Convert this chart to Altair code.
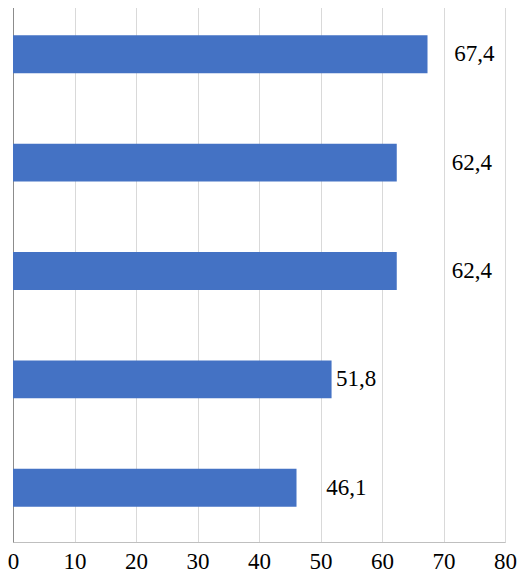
import altair as alt
import pandas as pd

categories = ["A", "B", "C", "D", "E"]
values = [67.4, 62.4, 62.4, 51.8, 46.1]
value_labels = ["67,4", "62,4", "62,4", "51,8", "46,1"]
# label anchor (in data units, centre of the text) as seen in the reference
label_at = [75.0, 74.6, 74.6, 55.8, 54.2]
x_ticks = [0, 10, 20, 30, 40, 50, 60, 70, 80]

SERIF = "'Liberation Serif', 'Times New Roman', 'DejaVu Serif', serif"

df = pd.DataFrame({
    "cat": categories,
    "value": values,
    "label": value_labels,
    "label_at": label_at,
})

y_enc = alt.Y(
    "cat:N",
    sort=categories,
    scale=alt.Scale(paddingInner=0.65, paddingOuter=0.325),
    axis=alt.Axis(labels=False, ticks=False, title=None, grid=False,
                  domainColor="#8c8c8c", domainWidth=1),
)

bars = alt.Chart(df).mark_bar(color="#4472C4").encode(
    x=alt.X(
        "value:Q",
        scale=alt.Scale(domain=[0, 80], nice=False),
        axis=alt.Axis(values=x_ticks, title=None, ticks=False,
                      grid=True, gridColor="#d9d9d9", gridWidth=1,
                      domainColor="#bfbfbf", domainWidth=1,
                      labelFont=SERIF, labelFontSize=23,
                      labelColor="#000000", labelPadding=8,
                      labelFlush=False),
    ),
    y=y_enc,
)

texts = alt.Chart(df).mark_text(
    font=SERIF, fontSize=23, color="#000000",
    align="center", baseline="middle",
).encode(
    x="label_at:Q",
    y=alt.Y("cat:N", sort=categories),
    text="label:N",
)

chart = alt.layer(bars, texts).properties(
    width=492,
    height=542,
    padding={"left": 5, "top": -8, "right": 13, "bottom": 33},
    autosize=alt.AutoSizeParams(type="none"),
).configure_view(stroke=None).configure(background="#ffffff")

chart.save("out.html", embed_options={"renderer": "svg", "actions": False})
